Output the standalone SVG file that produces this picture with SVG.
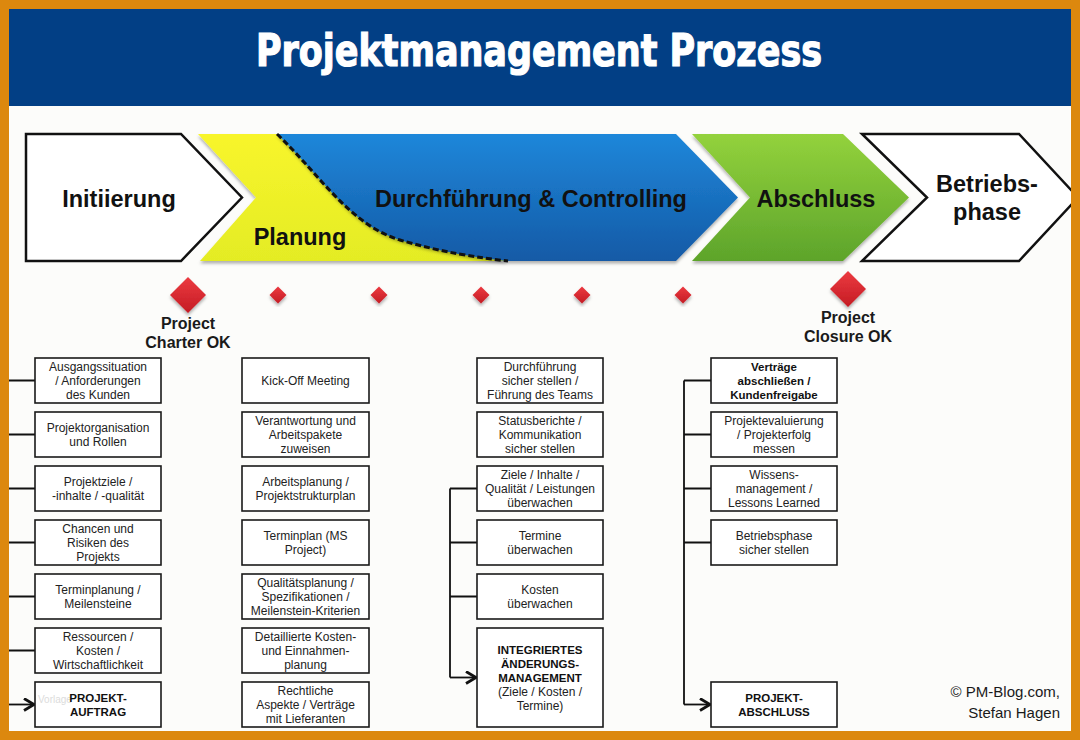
<svg xmlns="http://www.w3.org/2000/svg" width="1080" height="740" viewBox="0 0 1080 740">
<defs>
<style>
.box{fill:#fff;stroke:#1a1a1a;stroke-width:1.6}
.bt{font-family:"Liberation Sans",Arial,sans-serif;font-size:12px;fill:#222;text-anchor:middle}
.bb{font-family:"Liberation Sans",Arial,sans-serif;font-size:11.5px;font-weight:bold;fill:#111;text-anchor:middle}
.ph{font-family:"Liberation Sans",Arial,sans-serif;font-size:23.5px;font-weight:bold;fill:#111;text-anchor:middle}
.ms{font-family:"Liberation Sans",Arial,sans-serif;font-size:16px;font-weight:bold;fill:#1a1a1a;text-anchor:middle}
.con{fill:none;stroke:#111;stroke-width:1.8}
.dia{fill:url(#gRed);filter:url(#sh)}
</style>
<linearGradient id="gYel" x1="0" y1="0" x2="0" y2="1"><stop offset="0" stop-color="#f8f52c"/><stop offset="1" stop-color="#e4ec24"/></linearGradient>
<linearGradient id="gBlue" x1="0" y1="0" x2="0" y2="1"><stop offset="0" stop-color="#1f87da"/><stop offset="1" stop-color="#135aa6"/></linearGradient>
<linearGradient id="gGreen" x1="0" y1="0" x2="0" y2="1"><stop offset="0" stop-color="#93d23c"/><stop offset="1" stop-color="#5da42b"/></linearGradient>
<linearGradient id="gRed" x1="0" y1="0" x2="0" y2="1"><stop offset="0" stop-color="#ec3a40"/><stop offset="1" stop-color="#c41c24"/></linearGradient>
<filter id="sh" x="-10%" y="-10%" width="120%" height="130%"><feDropShadow dx="0" dy="2.5" stdDeviation="1.8" flood-color="#000" flood-opacity="0.3"/></filter>
<marker id="arr" markerUnits="userSpaceOnUse" markerWidth="14" markerHeight="16" refX="11" refY="7" orient="auto"><path d="M1,1 L11,7 L1,13" fill="none" stroke="#111" stroke-width="2.8"/></marker>
</defs>
<rect x="0" y="0" width="1080" height="740" fill="#fcfcfa"/>
<rect x="9" y="9" width="1062" height="97" fill="#023f85"/>
<text x="539" y="66" font-family="'DejaVu Sans Condensed','Liberation Sans Narrow',sans-serif" font-weight="bold" font-size="45" fill="#fff" stroke="#fff" stroke-width="1.2" text-anchor="middle" textLength="566" lengthAdjust="spacingAndGlyphs">Projektmanagement Prozess</text>

<g id="phase-initiierung">
<polygon points="26,134 181,134 242,197.5 181,261 26,261" fill="#fff" stroke="#111" stroke-width="2.5"/>
<text class="ph" x="119" y="207">Initiierung</text>
</g>
<g id="phase-planung">
<polygon points="198,134 277,134 508,261 200,261 256,197.5" fill="url(#gYel)" filter="url(#sh)"/>
<text class="ph" x="300" y="245">Planung</text>
</g>
<g id="phase-durchfuehrung">
<path d="M277,134 L676,134 L738,197.5 L676,261 L508,261 C480,258 440,252 400,240 C350,225 320,175 277,134 Z" fill="url(#gBlue)" filter="url(#sh)"/>
<path d="M277,134 C320,175 350,225 400,240 C440,252 480,258 508,261" fill="none" stroke="#111" stroke-width="3" stroke-dasharray="6,3"/>
<text class="ph" x="531" y="207">Durchführung &amp; Controlling</text>
</g>
<g id="phase-abschluss">
<polygon points="692,134 843,134 909,197.5 843,261 692,261 750,197.5" fill="url(#gGreen)" filter="url(#sh)"/>
<text class="ph" x="816" y="207">Abschluss</text>
</g>
<g id="phase-betriebsphase">
<polygon points="862,134 1019,134 1078,197.5 1019,261 862,261 927,197.5" fill="#fff" stroke="#111" stroke-width="2.5"/>
<text class="ph" x="987" y="192" font-size="24">Betriebs-</text>
<text class="ph" x="987" y="220" font-size="24">phase</text>
</g>

<g id="milestone-charter">
<polygon class="dia" points="188,277 206,295 188,313 170,295"/>
<text class="ms" x="188" y="329">Project</text>
<text class="ms" x="188" y="348">Charter OK</text>
</g>
<g id="milestones-small">
<polygon class="dia" points="278,286.5 286.5,295 278,303.5 269.5,295"/>
<polygon class="dia" points="379,286.5 387.5,295 379,303.5 370.5,295"/>
<polygon class="dia" points="481,286.5 489.5,295 481,303.5 472.5,295"/>
<polygon class="dia" points="582,286.5 590.5,295 582,303.5 573.5,295"/>
<polygon class="dia" points="683,286.5 691.5,295 683,303.5 674.5,295"/>
</g>
<g id="milestone-closure">
<polygon class="dia" points="848,271 866,289 848,307 830,289"/>
<text class="ms" x="848" y="323">Project</text>
<text class="ms" x="848" y="342">Closure OK</text>
</g>

<g id="connectors">
<path class="con" d="M5,380.5 V704.5 M5,380.5 H35 M5,434.5 H35 M5,488.5 H35 M5,542.5 H35 M5,596.5 H35 M5,650.5 H35"/>
<path class="con" d="M5,704.5 H34" marker-end="url(#arr)"/>
<path class="con" d="M450,488.5 V677.5 M450,488.5 H477 M450,542.5 H477 M450,596.5 H477"/>
<path class="con" d="M450,677.5 H476" marker-end="url(#arr)"/>
<path class="con" d="M684,380.5 V704.5 M684,380.5 H711 M684,434.5 H711 M684,488.5 H711 M684,542.5 H711"/>
<path class="con" d="M684,704.5 H710" marker-end="url(#arr)"/>
</g>

<g id="col-initiierung">
<g id="n-ausgang"><rect class="box" x="35" y="358" width="126" height="45"/><text class="bt"><tspan x="98" y="371">Ausgangssituation</tspan><tspan x="98" y="385">/ Anforderungen</tspan><tspan x="98" y="399">des Kunden</tspan></text></g>
<g id="n-projorg"><rect class="box" x="35" y="412" width="126" height="45"/><text class="bt"><tspan x="98" y="432">Projektorganisation</tspan><tspan x="98" y="446">und Rollen</tspan></text></g>
<g id="n-ziele"><rect class="box" x="35" y="466" width="126" height="45"/><text class="bt"><tspan x="98" y="486">Projektziele /</tspan><tspan x="98" y="500">-inhalte / -qualität</tspan></text></g>
<g id="n-chancen"><rect class="box" x="35" y="520" width="126" height="45"/><text class="bt"><tspan x="98" y="533">Chancen und</tspan><tspan x="98" y="547">Risiken des</tspan><tspan x="98" y="561">Projekts</tspan></text></g>
<g id="n-terminpl"><rect class="box" x="35" y="574" width="126" height="45"/><text class="bt"><tspan x="98" y="594">Terminplanung /</tspan><tspan x="98" y="608">Meilensteine</tspan></text></g>
<g id="n-ressourcen"><rect class="box" x="35" y="628" width="126" height="45"/><text class="bt"><tspan x="98" y="641">Ressourcen /</tspan><tspan x="98" y="655">Kosten /</tspan><tspan x="98" y="669">Wirtschaftlichkeit</tspan></text></g>
<g id="n-auftrag"><rect class="box" x="35" y="682" width="126" height="45"/><text x="38" y="703" font-family="'Liberation Sans',sans-serif" font-size="10" fill="#dcdcdc">Vorlage</text><text class="bb"><tspan x="98" y="702">PROJEKT-</tspan><tspan x="98" y="716">AUFTRAG</tspan></text></g>
</g>

<g id="col-planung">
<g id="n-kickoff"><rect class="box" x="242" y="358" width="127" height="45"/><text class="bt" x="305.5" y="385">Kick-Off Meeting</text></g>
<g id="n-verantw"><rect class="box" x="242" y="412" width="127" height="45"/><text class="bt"><tspan x="305.5" y="425">Verantwortung und</tspan><tspan x="305.5" y="439">Arbeitspakete</tspan><tspan x="305.5" y="453">zuweisen</tspan></text></g>
<g id="n-arbeitspl"><rect class="box" x="242" y="466" width="127" height="45"/><text class="bt"><tspan x="305.5" y="486">Arbeitsplanung /</tspan><tspan x="305.5" y="500">Projektstrukturplan</tspan></text></g>
<g id="n-terminplan"><rect class="box" x="242" y="520" width="127" height="45"/><text class="bt"><tspan x="305.5" y="540">Terminplan (MS</tspan><tspan x="305.5" y="554">Project)</tspan></text></g>
<g id="n-qualitaet"><rect class="box" x="242" y="574" width="127" height="45"/><text class="bt"><tspan x="305.5" y="587">Qualitätsplanung /</tspan><tspan x="305.5" y="601">Spezifikationen /</tspan><tspan x="305.5" y="615">Meilenstein-Kriterien</tspan></text></g>
<g id="n-kosten"><rect class="box" x="242" y="628" width="127" height="45"/><text class="bt"><tspan x="305.5" y="641">Detaillierte Kosten-</tspan><tspan x="305.5" y="655">und Einnahmen-</tspan><tspan x="305.5" y="669">planung</tspan></text></g>
<g id="n-recht"><rect class="box" x="242" y="682" width="127" height="45"/><text class="bt"><tspan x="305.5" y="695">Rechtliche</tspan><tspan x="305.5" y="709">Aspekte / Verträge</tspan><tspan x="305.5" y="723">mit Lieferanten</tspan></text></g>
</g>

<g id="col-durchfuehrung">
<g id="n-durchf"><rect class="box" x="477" y="358" width="126" height="45"/><text class="bt"><tspan x="540" y="371">Durchführung</tspan><tspan x="540" y="385">sicher stellen /</tspan><tspan x="540" y="399">Führung des Teams</tspan></text></g>
<g id="n-status"><rect class="box" x="477" y="412" width="126" height="45"/><text class="bt"><tspan x="540" y="425">Statusberichte /</tspan><tspan x="540" y="439">Kommunikation</tspan><tspan x="540" y="453">sicher stellen</tspan></text></g>
<g id="n-zieleue"><rect class="box" x="477" y="466" width="126" height="45"/><text class="bt"><tspan x="540" y="479">Ziele / Inhalte /</tspan><tspan x="540" y="493">Qualität / Leistungen</tspan><tspan x="540" y="507">überwachen</tspan></text></g>
<g id="n-termineue"><rect class="box" x="477" y="520" width="126" height="45"/><text class="bt"><tspan x="540" y="540">Termine</tspan><tspan x="540" y="554">überwachen</tspan></text></g>
<g id="n-kostenue"><rect class="box" x="477" y="574" width="126" height="45"/><text class="bt"><tspan x="540" y="594">Kosten</tspan><tspan x="540" y="608">überwachen</tspan></text></g>
<g id="n-aenderung"><rect class="box" x="477" y="628" width="126" height="99"/><text class="bb"><tspan x="540" y="654">INTEGRIERTES</tspan><tspan x="540" y="668">ÄNDERUNGS-</tspan><tspan x="540" y="682">MANAGEMENT</tspan></text><text class="bt"><tspan x="540" y="696">(Ziele / Kosten /</tspan><tspan x="540" y="710">Termine)</tspan></text></g>
</g>

<g id="col-abschluss">
<g id="n-vertraege"><rect class="box" x="711" y="358" width="126" height="45"/><text class="bb" font-size="12"><tspan x="774" y="371">Verträge</tspan><tspan x="774" y="385">abschließen /</tspan><tspan x="774" y="399">Kundenfreigabe</tspan></text></g>
<g id="n-evaluierung"><rect class="box" x="711" y="412" width="126" height="45"/><text class="bt"><tspan x="774" y="425">Projektevaluierung</tspan><tspan x="774" y="439">/ Projekterfolg</tspan><tspan x="774" y="453">messen</tspan></text></g>
<g id="n-wissen"><rect class="box" x="711" y="466" width="126" height="45"/><text class="bt"><tspan x="774" y="479">Wissens-</tspan><tspan x="774" y="493">management /</tspan><tspan x="774" y="507">Lessons Learned</tspan></text></g>
<g id="n-betrieb"><rect class="box" x="711" y="520" width="126" height="45"/><text class="bt"><tspan x="774" y="540">Betriebsphase</tspan><tspan x="774" y="554">sicher stellen</tspan></text></g>
<g id="n-projabschluss"><rect class="box" x="711" y="682" width="126" height="45"/><text class="bb"><tspan x="774" y="702">PROJEKT-</tspan><tspan x="774" y="716">ABSCHLUSS</tspan></text></g>
</g>

<text font-family="'Liberation Sans',Arial,sans-serif" font-size="15" fill="#1a1a1a" text-anchor="end"><tspan x="1060" y="697">© PM-Blog.com,</tspan><tspan x="1060" y="718">Stefan Hagen</tspan></text>

<rect x="4.5" y="4.5" width="1071" height="731" fill="none" stroke="#dc880e" stroke-width="9"/>
</svg>
